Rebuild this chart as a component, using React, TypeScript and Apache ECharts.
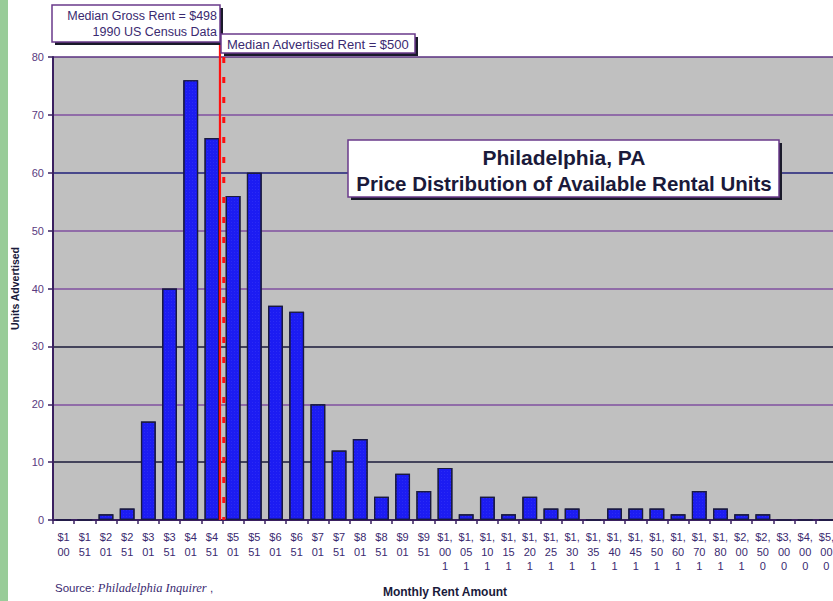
import React, { useEffect, useRef } from "react";
import * as echarts from "echarts";

const categories = [
  "$1\n00", "$1\n51", "$2\n01", "$2\n51", "$3\n01", "$3\n51", "$4\n01", "$4\n51",
  "$5\n01", "$5\n51", "$6\n01", "$6\n51", "$7\n01", "$7\n51", "$8\n01", "$8\n51",
  "$9\n01", "$9\n51", "$1,\n00\n1", "$1,\n05\n1", "$1,\n10\n1", "$1,\n15\n1",
  "$1,\n20\n1", "$1,\n25\n1", "$1,\n30\n1", "$1,\n35\n1", "$1,\n40\n1", "$1,\n45\n1",
  "$1,\n50\n1", "$1,\n60\n1", "$1,\n70\n1", "$1,\n80\n1", "$2,\n00\n1", "$2,\n50\n0",
  "$3,\n00\n0", "$4,\n00\n0", "$5,\n00\n0",
];

const unitsAdvertised = [
  0, 0, 1, 2, 17, 40, 76, 66, 56, 60, 37, 36, 20, 12, 14, 4, 8, 5, 9, 1,
  4, 1, 4, 2, 2, 0, 2, 2, 2, 1, 5, 2, 1, 1, 0, 0, 0,
];

const yTicks = [0, 10, 20, 30, 40, 50, 60, 70, 80];

// Median markers: value and its position on the category scale (bin index)
const medianGross = { label: ["Median Gross Rent = $498", "1990 US Census Data"], value: 498, pos: 7.38 };
const medianAdvertised = { label: "Median Advertised Rent = $500", value: 500, pos: 7.56 };

const titleLines = ["Philadelphia, PA", "Price Distribution of Available Rental Units"];

const FONT = "Arial, 'Liberation Sans', sans-serif";
const TEXT_COLOR = "#3a2a70";

export default function App() {
  const ref = useRef<HTMLDivElement>(null);

  useEffect(() => {
    if (!ref.current) return;
    const chart = echarts.init(ref.current, undefined, { renderer: "svg" });
    const gridColors = ["#2a1a5a", "#1a1a3a", "#8050a0", "#1a1a3a", "#8050a0", "#8050a0", "#20207a", "#8050a0", "#5a3080"];
    chart.setOption({
      animation: false,
      backgroundColor: "#ffffff",
      grid: {
        left: 53, top: 57, right: -4, bottom: 81,
        containLabel: false, outerBoundsMode: "none",
        show: true, backgroundColor: "#c0c0c0", borderWidth: 0,
      },
      xAxis: {
        type: "category",
        data: categories,
        name: "Monthly Rent Amount",
        nameLocation: "middle",
        nameGap: 66,
        nameTextStyle: { fontFamily: FONT, fontSize: 12, fontWeight: "bold", color: "#1a1a3a" },
        axisLine: { show: true, lineStyle: { color: "#3a2060", width: 2 } },
        axisTick: { show: true, alignWithLabel: false, length: 4, lineStyle: { color: "#3a2060", width: 1.5 } },
        axisLabel: { interval: 0, fontFamily: FONT, fontSize: 11, lineHeight: 14.5, margin: 10, color: TEXT_COLOR },
        splitLine: { show: false },
      },
      yAxis: {
        type: "value",
        min: 0,
        max: 80,
        interval: 10,
        name: "Units Advertised",
        nameLocation: "middle",
        nameGap: 33,
        nameTextStyle: { fontFamily: FONT, fontSize: 10.5, fontWeight: "bold", color: "#1a1a3a" },
        axisLine: { show: true, lineStyle: { color: "#3a2060", width: 2 } },
        axisTick: { show: true, length: 5, lineStyle: { color: "#3a2060", width: 1.5 } },
        axisLabel: { fontFamily: FONT, fontSize: 11, margin: 9, color: "#5a3a80", formatter: (v: number) => (yTicks.includes(v) ? String(v) : "") },
        splitLine: { show: true, lineStyle: { color: gridColors, width: 1.7 } },
      },
      series: [
        {
          type: "bar",
          data: unitsAdvertised,
          barCategoryGap: "30%",
          itemStyle: {
            color: "#1c1cf2",
            borderColor: "#1a1a40",
            borderWidth: 1.2,
            decal: { symbol: "rect", symbolSize: 0.6, dashArrayX: [1, 2], dashArrayY: [1, 2], color: "rgba(120,120,255,0.55)" },
          },
        },
      ],
    });

    const x0 = chart.convertToPixel({ xAxisIndex: 0 }, 0) as number;
    const x1 = chart.convertToPixel({ xAxisIndex: 0 }, 1) as number;
    const step = x1 - x0;
    const xGross = x0 + medianGross.pos * step;
    const xAdv = x0 + medianAdvertised.pos * step;
    const yTop = chart.convertToPixel({ yAxisIndex: 0 }, 80) as number;
    const yBottom = chart.convertToPixel({ yAxisIndex: 0 }, 0) as number;

    const shadowBox = (x: number, y: number, w: number, h: number, border: string) => [
      { type: "rect", shape: { x: x + 3, y: y + 3, width: w, height: h }, style: { fill: "#1a1a2a" }, z: 100 },
      { type: "rect", shape: { x, y, width: w, height: h }, style: { fill: "#ffffff", stroke: border, lineWidth: 1.5 }, z: 101 },
    ];

    chart.setOption({
      graphic: [
        { type: "rect", shape: { x: 0, y: 0, width: 8, height: 601 }, style: { fill: "#99cc99" }, z: 100 },
        // median lines
        { type: "line", shape: { x1: xGross, y1: 42, x2: xGross, y2: yBottom }, style: { stroke: "#ff1010", lineWidth: 2.2 }, z: 90 },
        { type: "line", shape: { x1: xAdv, y1: yTop, x2: xAdv, y2: yBottom }, style: { stroke: "#ff1010", lineWidth: 3, lineDash: [6, 14] }, z: 90 },
        // annotation boxes
        ...shadowBox(52, 5, 168, 37, "#6a3a8a"),
        { type: "text", z: 102, style: { text: medianGross.label[0], x: 217, y: 16, textAlign: "right", textVerticalAlign: "middle", font: `12.5px ${FONT}`, fill: TEXT_COLOR } },
        { type: "text", z: 102, style: { text: medianGross.label[1], x: 217, y: 32, textAlign: "right", textVerticalAlign: "middle", font: `12.5px ${FONT}`, fill: TEXT_COLOR } },
        ...shadowBox(221, 34, 194, 19, "#6a3a8a"),
        { type: "text", z: 102, style: { text: medianAdvertised.label, x: 227, y: 44, textAlign: "left", textVerticalAlign: "middle", font: `13px ${FONT}`, fill: TEXT_COLOR } },
        // title box
        ...shadowBox(348, 140, 431, 57, "#6a3a8a"),
        { type: "text", z: 102, style: { text: titleLines[0], x: 564, y: 157, textAlign: "center", textVerticalAlign: "middle", font: `bold 21px ${FONT}`, fill: "#1a1a3a" } },
        { type: "text", z: 102, style: { text: titleLines[1], x: 564, y: 183, textAlign: "center", textVerticalAlign: "middle", font: `bold 20.5px ${FONT}`, fill: "#1a1a3a" } },
        // source
        {
          type: "text", z: 102,
          style: {
            x: 55, y: 588, textVerticalAlign: "middle",
            text: "{a|Source: }{b|Philadelphia Inquirer}{a| ,}",
            rich: {
              a: { fontFamily: FONT, fontSize: 11.5, fill: TEXT_COLOR },
              b: { fontFamily: "'Liberation Serif', 'DejaVu Serif', serif", fontStyle: "italic", fontSize: 12.5, fill: TEXT_COLOR },
            },
          },
        },
      ],
    });

    return () => chart.dispose();
  }, []);

  return <div ref={ref} style={{ position: "fixed", left: 0, top: 0, width: 833, height: 601 }} />;
}
